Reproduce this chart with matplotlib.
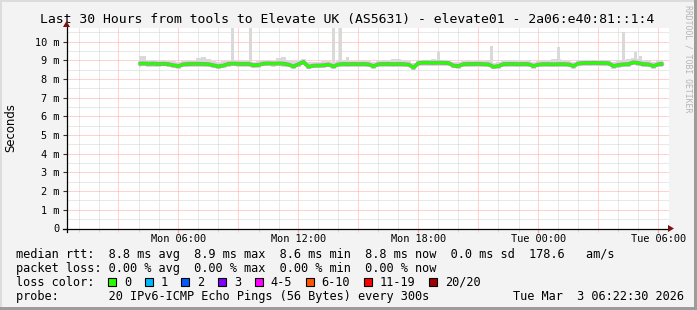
import matplotlib
matplotlib.use("Agg")
import matplotlib.pyplot as plt
from matplotlib.patches import Rectangle, Polygon
import numpy as np

W, H = 697, 310
MONO = "DejaVu Sans Mono"

# ---------------- data ----------------
start_hour = 4.0          # hours after Mon 00:00 of first sample
step_hour = 0.25          # sample spacing in hours

median = [
    8.83, 8.84, 8.82, 8.83, 8.81, 8.82, 8.80, 8.74, 8.70, 8.79,
    8.81, 8.82, 8.82, 8.81, 8.80, 8.74, 8.68, 8.73, 8.82, 8.83,
    8.82, 8.81, 8.82, 8.74, 8.76, 8.83, 8.84, 8.83, 8.84, 8.83,
    8.78, 8.68, 8.80, 8.92, 8.66, 8.72, 8.73, 8.74, 8.78, 8.68,
    8.79, 8.81, 8.80, 8.81, 8.80, 8.81, 8.79, 8.69, 8.80, 8.81,
    8.81, 8.80, 8.81, 8.80, 8.78, 8.62, 8.86, 8.88, 8.88, 8.87,
    8.88, 8.87, 8.86, 8.72, 8.70, 8.80, 8.81, 8.81, 8.82, 8.80,
    8.79, 8.66, 8.70, 8.80, 8.81, 8.81, 8.80, 8.81, 8.80, 8.70,
    8.78, 8.80, 8.80, 8.79, 8.80, 8.80, 8.79, 8.70, 8.84, 8.86,
    8.86, 8.87, 8.86, 8.86, 8.85, 8.70, 8.76, 8.79, 8.80, 8.90,
    8.86, 8.80, 8.79, 8.70, 8.80, 8.82]

smoke_high = [
    9.25, 9.22, 9.05, 9.00, 8.98, 9.02, 8.97, 8.95, 8.92, 8.96,
    9.00, 8.98, 9.15, 9.17, 9.10, 8.96, 8.92, 8.95, 8.99, 9.00,
    8.98, 9.02, 8.97, 8.93, 8.95, 9.00, 9.01, 8.99, 9.15, 9.17,
    9.05, 8.95, 9.05, 9.08, 8.90, 8.92, 8.94, 8.95, 8.96, 8.90,
    8.97, 9.00, 8.98, 8.99, 8.97, 9.00, 8.98, 8.92, 8.97, 9.00,
    9.02, 9.10, 9.08, 9.05, 8.97, 8.88, 9.02, 9.05, 9.04, 9.06,
    9.05, 9.03, 9.02, 8.92, 8.90, 8.98, 9.00, 8.99, 9.00, 8.98,
    9.00, 8.88, 8.92, 9.05, 9.02, 9.04, 9.00, 8.99, 9.01, 8.92,
    8.98, 9.00, 9.05, 9.10, 9.08, 9.04, 8.98, 8.90, 9.02, 9.05,
    9.03, 9.04, 9.02, 9.04, 9.03, 8.92, 9.00, 9.02, 9.10, 9.12,
    9.08, 9.00, 9.02, 8.92, 9.00, 9.02]

smoke_low = [
    8.66, 8.68, 8.66, 8.67, 8.66, 8.68, 8.65, 8.60, 8.57, 8.64,
    8.66, 8.67, 8.66, 8.65, 8.64, 8.60, 8.55, 8.60, 8.67, 8.68,
    8.66, 8.65, 8.67, 8.60, 8.62, 8.68, 8.69, 8.67, 8.68, 8.67,
    8.63, 8.55, 8.65, 8.75, 8.54, 8.58, 8.59, 8.60, 8.63, 8.55,
    8.64, 8.66, 8.65, 8.66, 8.65, 8.66, 8.64, 8.56, 8.65, 8.66,
    8.66, 8.65, 8.66, 8.65, 8.63, 8.50, 8.71, 8.73, 8.72, 8.71,
    8.73, 8.72, 8.70, 8.58, 8.57, 8.65, 8.66, 8.66, 8.67, 8.65,
    8.64, 8.53, 8.57, 8.65, 8.66, 8.66, 8.65, 8.66, 8.65, 8.57,
    8.63, 8.65, 8.65, 8.64, 8.65, 8.65, 8.64, 8.57, 8.69, 8.71,
    8.71, 8.72, 8.71, 8.71, 8.70, 8.57, 8.62, 8.64, 8.65, 8.74,
    8.71, 8.65, 8.64, 8.57, 8.65, 8.67]

spike_hours = [8.685, 9.585, 13.735, 14.085, 14.435, 18.985, 21.635, 24.985, 28.235, 28.835, 29.085]
spike_tops = [10.9, 10.9, 10.9, 10.9, 9.2, 9.43, 9.8, 9.7, 10.5, 9.43, 9.25]

xtick_hours = [6, 12, 18, 24, 30]
xtick_labels = ["Mon 06:00", "Mon 12:00", "Mon 18:00", "Tue 00:00", "Tue 06:00"]
ytick_values = [0, 1, 2, 3, 4, 5, 6, 7, 8, 9, 10]
ytick_labels = ["0", "1 m", "2 m", "3 m", "4 m", "5 m", "6 m", "7 m", "8 m", "9 m", "10 m"]

loss_labels = ["0", "1", "2", "3", "4-5", "6-10", "11-19", "20/20"]
loss_colors = ["#26ff00", "#00b8ff", "#0059ff", "#7e00ff", "#ff00ff", "#ff5500", "#ff0000", "#a10000"]

title = "Last 30 Hours from tools to Elevate UK (AS5631) - elevate01 - 2a06:e40:81::1:4"
stat_lines = [
    "median rtt:  8.8 ms avg  8.9 ms max  8.6 ms min  8.8 ms now  0.0 ms sd  178.6   am/s",
    "packet loss: 0.00 % avg  0.00 % max  0.00 % min  0.00 % now",
]
probe_text = "probe:       20 IPv6-ICMP Echo Pings (56 Bytes) every 300s"
date_text = "Tue Mar  3 06:22:30 2026"

# ---------------- figure ----------------
BG = "#f3f3f3"
fig = plt.figure(figsize=(W / 100, H / 100), dpi=100, facecolor=BG)

def fx(x):
    return x / W

def fy(y):
    return 1 - y / H

ax_left, ax_right, ax_top, ax_bot = 66.5, 668.5, 28.0, 228.5
ax = fig.add_axes([fx(ax_left), fy(ax_bot), (ax_right - ax_left) / W, (ax_bot - ax_top) / H])
ax.set_facecolor("white")
x_min, x_max = 0.4, 30.5
y_max = 10.74
ax.set_xlim(x_min, x_max)
ax.set_ylim(0, y_max)
for s in ax.spines.values():
    s.set_visible(False)

# grid
dot = (0, (1, 1))
RED_GRID = "#ffa4a4"
GREY_GRID = "#d2d2d2"
for h in range(1, 31):
    ax.axvline(h, color=RED_GRID if h % 3 == 0 else GREY_GRID, lw=0.72, ls=dot, zorder=1)
for v in np.arange(0.5, 10.6, 0.5):
    major = abs(v - round(v)) < 1e-6
    ax.axhline(v, color=RED_GRID if major else GREY_GRID, lw=0.72, ls=dot, zorder=1)

t = start_hour + step_hour * np.arange(len(median))

# smoke
ax.fill_between(t, smoke_low, smoke_high, step="mid", color="#d9d9d9", lw=0, zorder=2)
base = np.array(median)[np.clip(np.round((np.array(spike_hours) - start_hour) / step_hour).astype(int), 0, len(median) - 1)]
ax.bar(spike_hours, np.array(spike_tops) - base, bottom=base, width=0.15, color="#d9d9d9", lw=0, zorder=2)
ax.plot(t, median, color="#9a9a9a", lw=2.9, zorder=3, solid_capstyle="butt")
ax.plot(t, median, color=loss_colors[0], lw=2.0, zorder=4, solid_capstyle="butt")

# ticks
ax.set_xticks(xtick_hours)
ax.set_xticklabels(xtick_labels, fontfamily=MONO, fontsize=7.4)
ax.set_xticks(range(1, 31), minor=True)
ax.tick_params(axis="x", which="major", length=3, color=RED_GRID, pad=1.2)
ax.tick_params(axis="x", which="minor", length=2, color=GREY_GRID)
ax.set_yticks(ytick_values)
ax.set_yticklabels(ytick_labels, fontfamily=MONO, fontsize=7.4)
ax.tick_params(axis="y", which="major", length=2.9, color="#333333", width=0.8, pad=2.0)

# axes lines with arrows (pixel coords)
def line_px(x0, y0, x1, y1, **kw):
    fig.add_artist(plt.Line2D([fx(x0), fx(x1)], [fy(y0), fy(y1)], transform=fig.transFigure, **kw))

line_px(62.7, ax_bot, 669, ax_bot, color="black", lw=0.9, zorder=10)
line_px(ax_left, ax_bot + 3, ax_left, 26, color="black", lw=0.9, zorder=10)
arrow_c = "#7a1010"
fig.add_artist(Polygon([(fx(668), fy(ax_bot - 3.5)), (fx(668), fy(ax_bot + 3.5)), (fx(674), fy(ax_bot))],
                       closed=True, transform=fig.transFigure, color=arrow_c, lw=0, zorder=11))
fig.add_artist(Polygon([(fx(ax_left - 3.5), fy(27)), (fx(ax_left + 3.5), fy(27)), (fx(ax_left), fy(21))],
                       closed=True, transform=fig.transFigure, color=arrow_c, lw=0, zorder=11))

# texts
fig.text(fx(347.5), fy(19.3), title, fontfamily=MONO, fontsize=9.45, ha="center", va="center", color="black")
fig.text(fx(10.5), fy(127.5), "Seconds", fontfamily="DejaVu Sans", fontsize=8.4, rotation=90,
         ha="center", va="center", color="black")
fig.text(fx(688), fy(5), "RRDTOOL / TOBI OETIKER", fontfamily=MONO, fontsize=5.9, rotation=-90,
         ha="center", va="top", color="#b5b5b5")

LEG_FS = 8.56
CHW = 7.16
row_y = [254.3, 268.3, 282.3, 296.3]
for i, s in enumerate(stat_lines):
    fig.text(fx(16), fy(row_y[i]), s, fontfamily=MONO, fontsize=LEG_FS, ha="left", va="center")
fig.text(fx(16), fy(row_y[2]), "loss color:", fontfamily=MONO, fontsize=LEG_FS, ha="left", va="center")
lx = 124.0
for lab, col in zip(loss_labels, loss_colors):
    fig.add_artist(Rectangle((fx(lx - 16), fy(row_y[2] + 4)), 8 / W, 8 / H, transform=fig.transFigure,
                             facecolor=col, edgecolor="black", lw=0.8, zorder=10))
    fig.text(fx(lx), fy(row_y[2]), lab, fontfamily=MONO, fontsize=LEG_FS, ha="left", va="center")
    lx += len(lab) * CHW + 29.5
fig.text(fx(16), fy(row_y[3]), probe_text, fontfamily=MONO, fontsize=LEG_FS, ha="left", va="center")
fig.text(fx(513), fy(row_y[3]), date_text, fontfamily=MONO, fontsize=LEG_FS, ha="left", va="center")

# image frame (3D effect)
fig.add_artist(Rectangle((0, fy(2)), 1, 2 / H, transform=fig.transFigure, color="#dcdcdc", lw=0, zorder=20))
fig.add_artist(Rectangle((0, 0), 2 / W, 1, transform=fig.transFigure, color="#dcdcdc", lw=0, zorder=20))
fig.add_artist(Rectangle((0, 0), 1, 3 / H, transform=fig.transFigure, color="#9c9c9c", lw=0, zorder=21))
fig.add_artist(Rectangle((fx(694), 0), 3 / W, 1, transform=fig.transFigure, color="#9c9c9c", lw=0, zorder=21))

fig.savefig("out.png", dpi=100, facecolor=BG)
